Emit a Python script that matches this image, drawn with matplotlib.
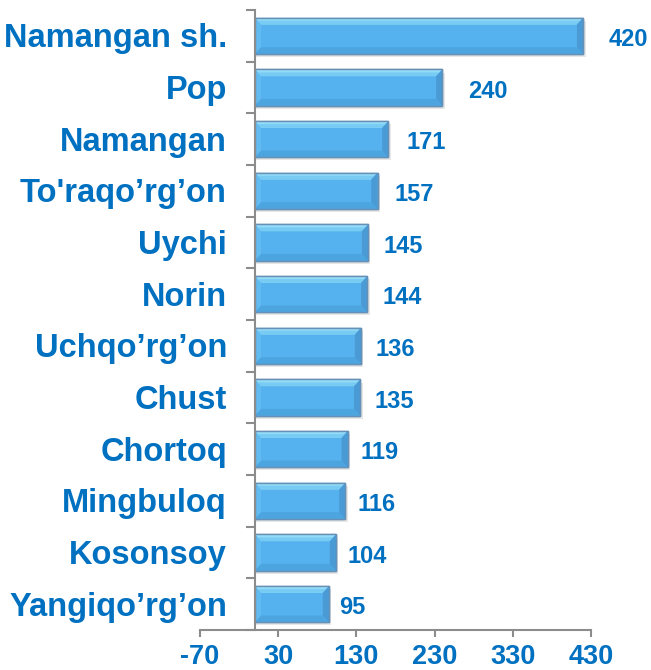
import matplotlib
matplotlib.use("Agg")
import matplotlib.pyplot as plt
import matplotlib.transforms as mtransforms
from matplotlib.patches import Polygon, Rectangle
from matplotlib.ticker import FixedLocator

categories = ["Namangan sh.", "Pop", "Namangan", "To'raqo\u2019rg\u2019on", "Uychi", "Norin",
              "Uchqo\u2019rg\u2019on", "Chust", "Chortoq", "Mingbuloq", "Kosonsoy", "Yangiqo\u2019rg\u2019on"]
values = [420, 240, 171, 157, 145, 144, 136, 135, 119, 116, 104, 95]
xticks = [-70, 30, 130, 230, 330, 430]

plt.rcParams['font.family'] = ['Liberation Sans', 'DejaVu Sans']
TXT = '#0070C0'
AX = '#8C8C8C'

fig = plt.figure(figsize=(6.51, 6.70), dpi=100)
ax = fig.add_axes([200/651, 1-630/670, 391/651, 620/670])
ax.set_xlim(-70, 430)
ax.set_ylim(len(categories)-0.5, -0.5)

h = 0.7
ys = list(range(len(categories)))
# shadow
for y, v in zip(ys, values):
    ax.add_patch(Rectangle((1.5, y - h/2 + 0.06), v + 1.5, h, facecolor='#BDBDBD', alpha=0.35,
                           edgecolor='none', zorder=1))
bars = ax.barh(ys, values, height=h, color='#55B2EE', edgecolor='#5C87AC', linewidth=1.0, zorder=2)

dx = 8
dy = 0.13
for y, v in zip(ys, values):
    top = y - h/2
    bot = y + h/2
    ax.add_patch(Polygon([(0, top), (v, top), (v - dx, top + dy), (dx, top + dy)],
                         closed=True, facecolor='#93DBF7', edgecolor='none', zorder=3))
    ax.add_patch(Polygon([(0, top + dy*0.45), (v, top + dy*0.45), (v - dx*0.55, top + dy), (dx*0.55, top + dy)],
                         closed=True, facecolor='#78CCF4', edgecolor='none', zorder=3))
    ax.add_patch(Polygon([(0, bot), (v, bot), (v - dx, bot - dy), (dx, bot - dy)],
                         closed=True, facecolor='#4DA5E0', edgecolor='none', zorder=3))
    ax.add_patch(Polygon([(v, top), (v, bot), (v - dx, bot - dy), (v - dx, top + dy)],
                         closed=True, facecolor='#4A9AD5', edgecolor='none', zorder=3))
    ax.add_patch(Polygon([(0, top), (0, bot), (dx, bot - dy), (dx, top + dy)],
                         closed=True, facecolor='#62BBF0', edgecolor='none', zorder=3))
    ax.add_patch(Rectangle((0, top), v, h, facecolor='none', edgecolor='#6690B5', linewidth=1.0, zorder=4))
    lx = v + min(0.135 * v, 33)
    ax.text(lx, y + 0.07, str(v), ha='left', va='center', fontsize=17, fontweight='bold',
            color=TXT, zorder=5)

for s in ['top', 'right']:
    ax.spines[s].set_visible(False)
ax.spines['left'].set_position(('data', 0))
for s in ['left', 'bottom']:
    ax.spines[s].set_color(AX)
    ax.spines[s].set_linewidth(1.5)
    ax.spines[s].set_zorder(6)

ax.set_yticks(ys)
ax.set_yticklabels(categories, fontsize=23.5, fontweight='bold', color=TXT)
ax.yaxis.set_minor_locator(FixedLocator([i - 0.5 for i in range(len(categories) + 1)]))
ax.tick_params(axis='y', which='major', length=0, pad=20)
ax.tick_params(axis='y', which='minor', length=6.5, width=1.5, color=AX, direction='out')
shift = mtransforms.ScaledTranslation(0, -3/100, fig.dpi_scale_trans)
for lab in ax.get_yticklabels():
    lab.set_verticalalignment('center')
    lab.set_transform(lab.get_transform() + shift)

ax.set_xticks(xticks)
ax.set_xticklabels([str(t) for t in xticks], fontsize=19.5, fontweight='bold', color=TXT)
ax.tick_params(axis='x', which='major', length=5, width=1.5, color=AX, direction='out', pad=5)

fig.savefig('out.png', dpi=100, facecolor='white')
